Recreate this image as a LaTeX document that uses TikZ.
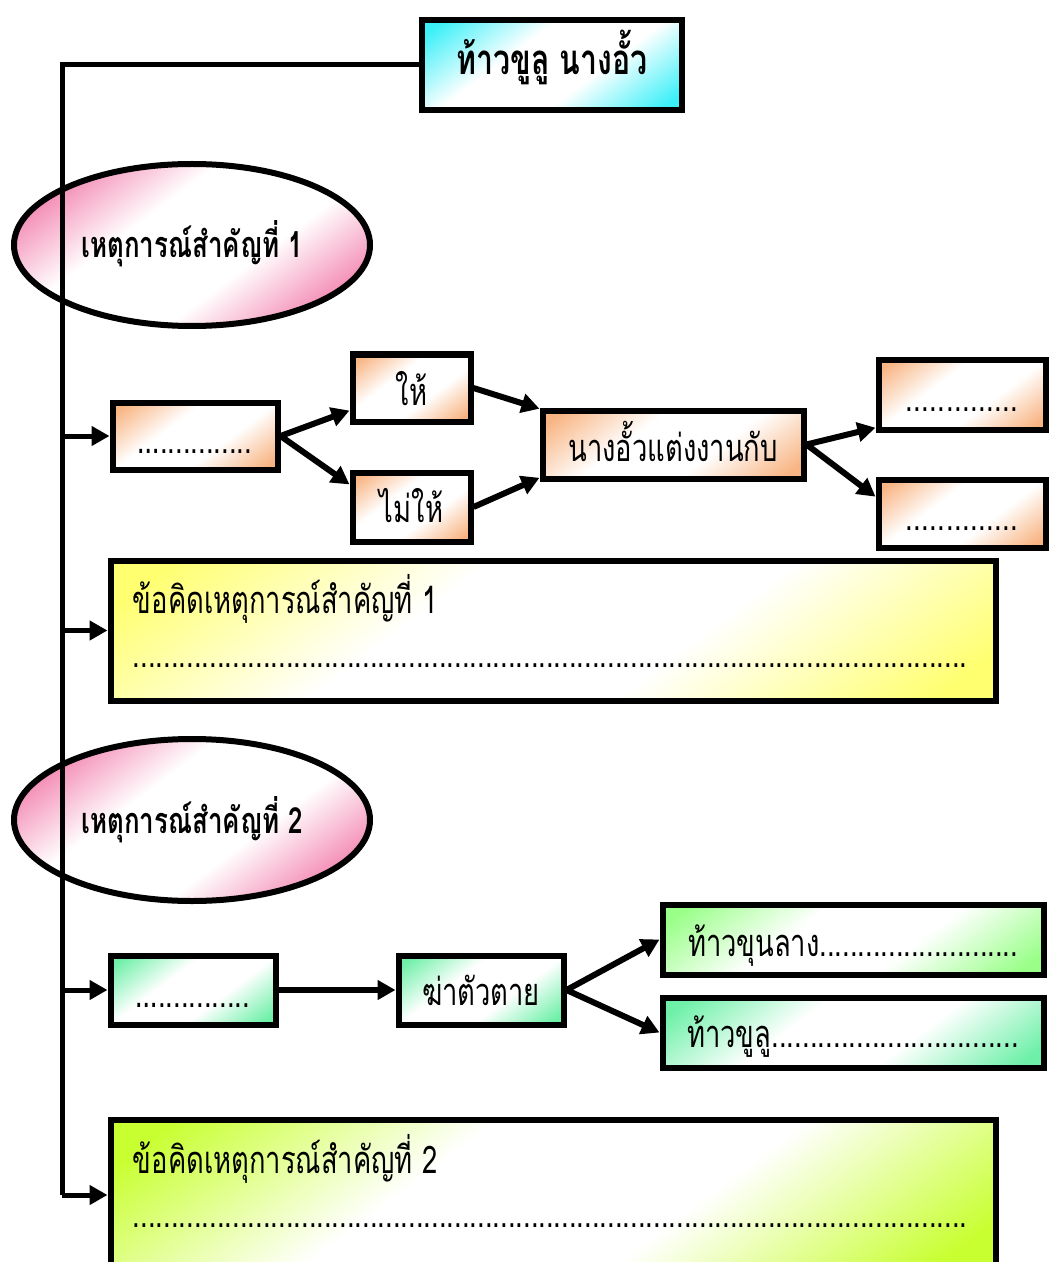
\documentclass[tikz,border=0pt]{standalone}
\usepackage{fontspec}
\newfontfamily\thai[Script=Thai,FakeStretch=0.72]{Loma}
\usetikzlibrary{shapes.geometric,arrows.meta,calc}
\definecolor{cyanG}{HTML}{3CF0F8}
\definecolor{pinkG}{HTML}{F0669C}
\definecolor{peachG}{HTML}{F8B482}
\definecolor{yellowG}{HTML}{FFFF70}
\definecolor{mintG}{HTML}{6EF0A8}
\definecolor{greenG}{HTML}{99FF88}
\definecolor{limeG}{HTML}{C8FF30}
\colorlet{gcol}{cyanG}
\pgfdeclareverticalshading[gcol]{diagfade}{100bp}{color(0bp)=(gcol); color(19bp)=(gcol); color(40bp)=(white); color(60bp)=(white); color(81bp)=(gcol); color(100bp)=(gcol)}
\newcommand{\thaiR}{\thai\fontsize{19}{22}\selectfont}
\newcommand{\thaiB}{\thai\bfseries\fontsize{18}{22}\selectfont}
\newcommand{\thaiT}{\thai\bfseries\fontsize{21}{24}\selectfont}
\newcommand{\dotrun}[1]{\hbox to #1{\xleaders\hbox{.}\hfill}}
\begin{document}
\begin{tikzpicture}[x=0.5pt,y=-0.5pt,
  box/.style={draw, line width=3pt, rectangle, inner sep=0pt, text height=20pt, text depth=3pt, font=\thaiR},
  grad/.style={/utils/exec={\colorlet{gcol}{#1}}, shading=diagfade, shading angle=37},
  arr/.style={line width=2.5pt, -{Triangle[length=9pt,width=9.5pt]}},
  darr/.style={line width=3pt, -{Triangle[length=9pt,width=9.5pt]}},
  trunk/.style={line width=2.5pt},
  txt/.style={font=\thaiR, inner sep=0pt}]
\useasboundingbox (0,0) rectangle (1050,1262);
% top
\node[box, grad=cyanG, minimum width=130pt, minimum height=45pt, font=\thaiT, text height=15pt, text depth=5pt] (title) at (552,65) {ท้าวขูลู นางอั้ว};
% event 1
\node[ellipse, draw, line width=3pt, grad=pinkG, minimum width=178pt, minimum height=81pt, inner sep=0pt, font=\thaiB, text height=16pt, text depth=3pt] (ev1) at (192,245) {เหตุการณ์สำคัญที่ 1};
\node[box, grad=peachG, minimum width=82.5pt, minimum height=33.5pt] (b1) at (195,436) {…\dotrun{46pt}};
\node[box, grad=peachG, minimum width=59pt, minimum height=33.5pt] (give) at (411.5,388) {ให้};
\node[box, grad=peachG, minimum width=59pt, minimum height=34.5pt, text height=18pt] (nogive) at (411.5,507) {ไม่ให้};
\node[box, grad=peachG, minimum width=130.5pt, minimum height=34pt] (marry) at (673,444.5) {นางอั้วแต่งงานกับ};
\node[box, grad=peachG, minimum width=83.5pt, minimum height=35pt] (r1) at (962,394.5) {\dotrun{57pt}};
\node[box, grad=peachG, minimum width=83.5pt, minimum height=34pt] (r2) at (962,513.5) {\dotrun{57pt}};
\node[box, grad=yellowG, minimum width=442.5pt, minimum height=70pt] (idea1) at (553,630.5) {};
\node[txt, anchor=base west] (idea1a) at ($(idea1.north west)+(25,56)$) {ข้อคิดเหตุการณ์สำคัญที่ 1};
\node[txt, anchor=base west] (idea1b) at ($(idea1.north west)+(25,110)$) {\dotrun{417pt}};
% event 2
\node[ellipse, draw, line width=3pt, grad=pinkG, minimum width=178pt, minimum height=81pt, inner sep=0pt, font=\thaiB, text height=16pt, text depth=3pt] (ev2) at (192,820) {เหตุการณ์สำคัญที่ 2};
\node[box, grad=mintG, minimum width=82.5pt, minimum height=34.5pt] (c1) at (193,990) {…\dotrun{46pt}};
\node[box, grad=mintG, minimum width=82.5pt, minimum height=34.5pt, text height=18pt] (kill) at (481,990) {ฆ่าตัวตาย};
\node[box, grad=greenG, minimum width=190.5pt, minimum height=35pt] (k1) at (853,939.5) {\hbox to 165pt{ท้าวขุนลาง\xleaders\hbox{.}\hfill}};
\node[box, grad=mintG, minimum width=190.5pt, minimum height=35pt, text height=18pt] (k2) at (853,1032.5) {\hbox to 166pt{ท้าวขูลู\xleaders\hbox{.}\hfill}};
\node[box, grad=limeG, minimum width=442.5pt, minimum height=75pt] (idea2) at (553,1195) {};
\node[txt, anchor=base west] (idea2a) at ($(idea2.north west)+(25,56)$) {ข้อคิดเหตุการณ์สำคัญที่ 2};
\node[txt, anchor=base west] (idea2b) at ($(idea2.north west)+(25,110)$) {\dotrun{417pt}};
% trunk
\coordinate (tb) at (62,1195);
\draw[trunk] (title.west) -| (tb);
\draw[arr] (b1.west -| tb) -- (b1.west);
\draw[arr] (idea1.west -| tb) -- (idea1.west);
\draw[arr] (c1.west -| tb) -- (c1.west);
\draw[arr] (idea2.west -| tb) -- (idea2.west);
% row 1 connectors
\draw[darr] (b1.east) -- (give.200);
\draw[darr] (b1.east) -- (nogive.160);
\draw[darr] (give.east) -- (marry.165);
\draw[darr] (nogive.east) -- (marry.194);
\draw[darr] (marry.east) -- (r1.201);
\draw[darr] (marry.east) -- (r2.169);
% row 2 connectors
\draw[darr] (c1.east) -- (kill.west);
\draw[darr] (kill.east) -- (k1.west);
\draw[darr] (kill.east) -- (k2.west);
\end{tikzpicture}
\end{document}
